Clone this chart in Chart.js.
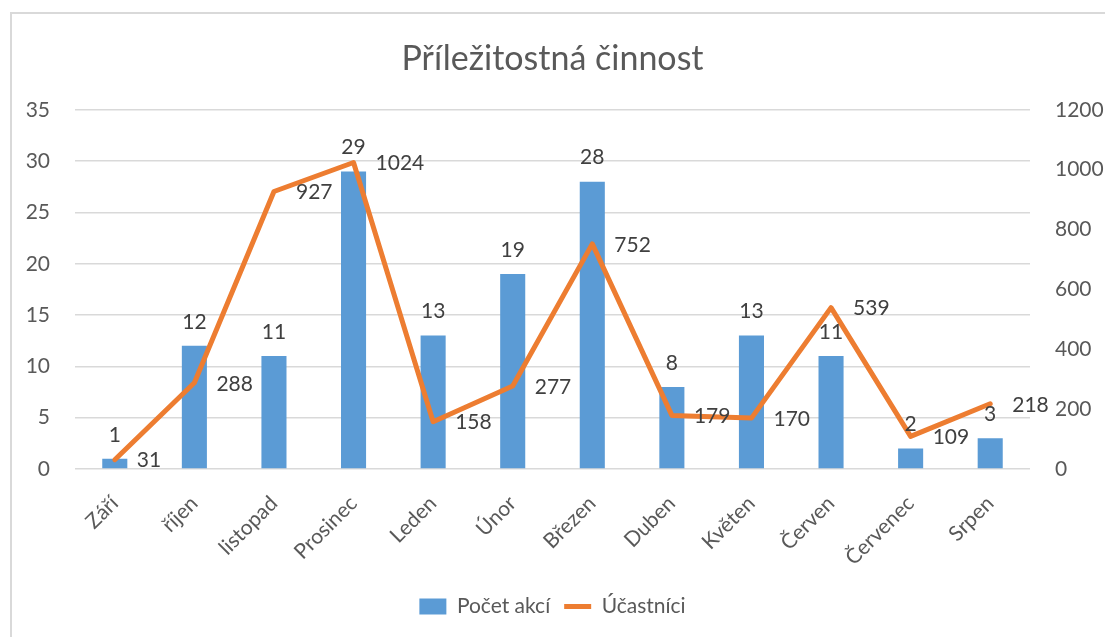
<!DOCTYPE html>
<html>
<head>
<meta charset="utf-8">
<script src="https://cdn.jsdelivr.net/npm/chart.js@4.4.0/dist/chart.umd.min.js"></script>
<style>
  html, body { margin: 0; padding: 0; background: #fff; overflow: hidden; }
  #wrap { position: relative; width: 1105px; height: 637px; }
  #frame { position: absolute; left: 10px; top: 12px; width: 1200px; height: 700px; border: 2px solid #d9d9d9; box-sizing: border-box; }
  canvas { position: absolute; left: 0; top: 0; }
</style>
</head>
<body>
<div id="wrap">
  <div id="frame"></div>
  <canvas id="graf" width="1105" height="637"></canvas>
</div>
<script>
// data
const mesice = ["Září", "říjen", "listopad", "Prosinec", "Leden", "Únor", "Březen", "Duben", "Květen", "Červen", "Červenec", "Srpen"];
const pocetAkci = [1, 12, 11, 29, 13, 19, 28, 8, 13, 11, 2, 3];
const ucastnici = [31, 288, 927, 1024, 158, 277, 752, 179, 170, 539, 109, 218];
const levaOsa = [0, 5, 10, 15, 20, 25, 30, 35];
const pravaOsa = [0, 200, 400, 600, 800, 1000, 1200];

const FONT = "Lato, 'Open Sans', sans-serif";

// popisky hodnot (jako v Excelu)
const popisky = {
    id: "popisky",
    afterDatasetsDraw(chart) {
        const ctx = chart.ctx;
        ctx.save();
        ctx.font = "21px " + FONT;
        ctx.fillStyle = "#404040";
        chart.data.datasets.forEach((ds, i) => {
            const meta = chart.getDatasetMeta(i);
            meta.data.forEach((el, j) => {
                const text = String(ds.data[j]);
                ctx.textBaseline = "middle";
                if (ds.type === "bar") {
                    ctx.textAlign = "center";
                    ctx.fillText(text, el.x, el.y - 24);
                } else {
                    ctx.textAlign = "left";
                    ctx.fillText(text, el.x + 22, el.y + 1);
                }
            });
        });
        ctx.restore();
    }
};

new Chart(document.getElementById("graf"), {
    data: {
        labels: mesice,
        datasets: [
            {
                type: "bar",
                label: "Počet akcí",
                data: pocetAkci,
                backgroundColor: "#5b9bd5",
                yAxisID: "y",
                barPercentage: 0.9,
                categoryPercentage: 0.35,
                order: 2
            },
            {
                type: "line",
                label: "Účastníci",
                data: ucastnici,
                borderColor: "#ed7d31",
                backgroundColor: "#ed7d31",
                borderWidth: 5,
                borderJoinStyle: "round",
                borderCapStyle: "round",
                pointRadius: 0,
                tension: 0,
                yAxisID: "y1",
                order: 1
            }
        ]
    },
    options: {
        responsive: false,
        animation: false,
        layout: { padding: { top: 14, bottom: 10, left: 0, right: 0 } },
        plugins: {
            title: {
                display: true,
                text: "Příležitostná činnost",
                color: "#595959",
                font: { family: FONT, size: 34, weight: "normal" },
                padding: { top: 25, bottom: 30 }
            },
            legend: {
                position: "bottom",
                labels: {
                    color: "#595959",
                    font: { family: FONT, size: 21 },
                    usePointStyle: true,
                    pointStyleWidth: 27,
                    boxHeight: 16,
                    padding: 14,
                    sort: (a, b) => a.datasetIndex - b.datasetIndex,
                    generateLabels(chart) {
                        const items = Chart.defaults.plugins.legend.labels.generateLabels(chart);
                        items.forEach(it => {
                            const ds = chart.data.datasets[it.datasetIndex];
                            it.pointStyle = ds.type === "bar" ? "rect" : "line";
                            if (ds.type === "line") { it.lineWidth = 5; it.strokeStyle = "#ed7d31"; }
                            else { it.lineWidth = 0; }
                        });
                        return items;
                    }
                }
            },
            tooltip: { enabled: false }
        },
        scales: {
            x: {
                grid: { display: false },
                border: { display: false },
                ticks: {
                    color: "#595959",
                    font: { family: FONT, size: 21 },
                    minRotation: 45,
                    maxRotation: 45,
                    padding: 14
                },
                afterFit(scale) { scale.height = 113; }
            },
            y: {
                position: "left",
                min: 0,
                max: 35,
                afterBuildTicks(scale) { scale.ticks = levaOsa.map(v => ({ value: v })); },
                grid: { color: "#d9d9d9", lineWidth: 1.5, drawTicks: false },
                border: { display: false },
                ticks: {
                    color: "#595959",
                    font: { family: FONT, size: 21 },
                    padding: 25
                },
                afterFit(scale) { scale.width = 75; }
            },
            y1: {
                position: "right",
                min: 0,
                max: 1200,
                afterBuildTicks(scale) { scale.ticks = pravaOsa.map(v => ({ value: v })); },
                grid: { display: false },
                border: { display: false },
                ticks: {
                    color: "#595959",
                    font: { family: FONT, size: 21 },
                    padding: 17,
                    callback: v => String(v)
                },
                afterFit(scale) { scale.width = 75; }
            }
        }
    },
    plugins: [popisky]
});
</script>
</body>
</html>
